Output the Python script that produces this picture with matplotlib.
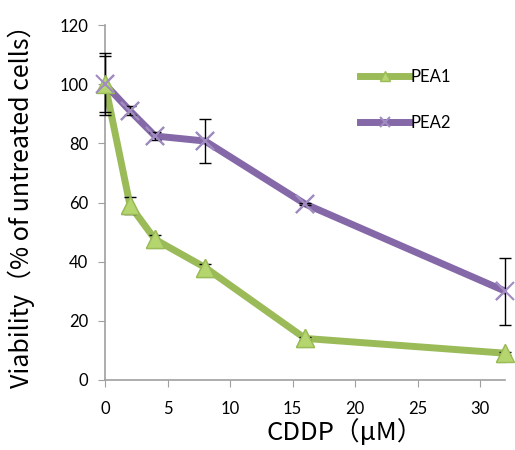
import matplotlib
matplotlib.use("Agg")
import matplotlib.pyplot as plt
import numpy as np

plt.rcParams['font.family'] = ['Lato', 'DejaVu Sans']

dose = [0, 2, 4, 8, 16, 32]
pea1 = [100, 59, 47.5, 38, 14, 9]
pea1_err = [10.5, 3, 1.5, 1.2, 0.5, 0.5]
pea2 = [100, 91, 82.5, 80.8, 59.5, 30]
pea2_err = [9.5, 1.5, 1.5, 7.6, 0.5, 11.3]

green = '#9BBB59'
purple = '#8468A8'

fig = plt.figure(figsize=(5.15, 4.5), dpi=100)
ax = fig.add_axes([0.204, 0.156, 0.777, 0.788])

# lines (with markers for the legend handles)
ax.plot(dose, pea1, color=green, lw=5, marker='^', ms=13,
        mfc='#B5D56E', mec=green, label='PEA1', zorder=2)
ax.plot(dose, pea2, color=purple, lw=5, marker='x', ms=13,
        mew=1.5, mec='#A08CC0', label='PEA2', zorder=2)

# error bars sit over the lines, under the markers
for y, e in [(pea1, pea1_err), (pea2, pea2_err)]:
    eb = ax.errorbar(dose, y, yerr=e, fmt='none', ecolor='black',
                     elinewidth=1, capsize=4, capthick=1, zorder=3)
    for art in eb.lines[1]:
        art.set_clip_on(False)
    for art in eb.lines[2]:
        art.set_clip_on(False)

ax.plot(dose, pea1, ls='none', marker='^', ms=13,
        mfc='#B5D56E', mec=green, zorder=4, clip_on=False)
ax.plot(dose, pea2, ls='none', marker='x', ms=13,
        mew=1.5, mec='#A08CC0', zorder=4, clip_on=False)

ax.set_xlim(0, 32)
ax.set_ylim(0, 120)
ax.set_xticks(np.arange(0, 31, 5))
ax.set_yticks(np.arange(0, 121, 20))
ax.tick_params(labelsize=12, color='#A0A0A0', length=5)
ax.tick_params(axis='x', pad=10)
ax.tick_params(axis='y', pad=7)

for s in ['top', 'right']:
    ax.spines[s].set_visible(False)
for s in ['left', 'bottom']:
    ax.spines[s].set_color('#A0A0A0')
    ax.spines[s].set_linewidth(1.2)

cjk = ['Noto Sans CJK JP', 'DejaVu Sans']
ax.set_xlabel('CDDP（μM）', fontsize=18.5, family=cjk)
ax.xaxis.set_label_coords(0.6, -0.112)
ax.set_ylabel('Viability（% of untreated cells）', fontsize=18, family=cjk)
ax.yaxis.set_label_coords(-0.175, 0.505)

leg = ax.legend(loc='upper left', bbox_to_anchor=(0.60, 0.92), frameon=False,
                fontsize=12, handlelength=3.0, handletextpad=0.05,
                labelspacing=1.8, markerscale=0.6)

fig.savefig('out.png', dpi=100)
